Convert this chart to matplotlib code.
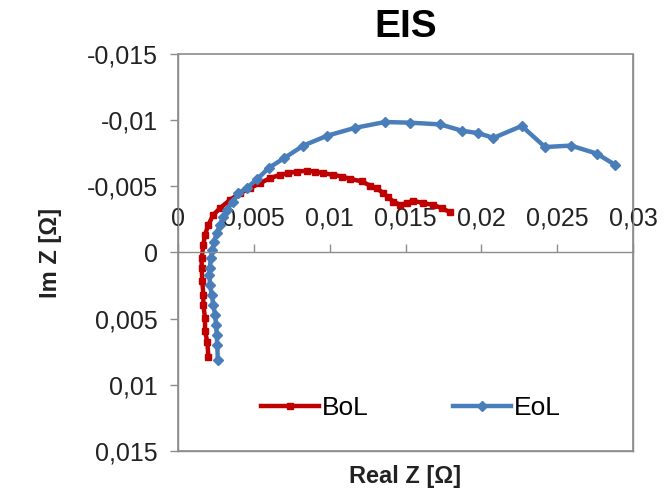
import matplotlib
matplotlib.use("Agg")
import matplotlib.pyplot as plt
from matplotlib.ticker import FuncFormatter

plt.rcParams['font.family'] = ['Liberation Sans', 'DejaVu Sans']

# BoL curve (Real Z, Im Z)
bol_re = [0.00200, 0.00193, 0.00178, 0.00178, 0.00167, 0.00167, 0.00160, 0.00156,
          0.00156, 0.00167, 0.00178, 0.00200, 0.00233, 0.00277, 0.00343, 0.00409,
          0.00475, 0.00541, 0.00607, 0.00673, 0.00727, 0.00783, 0.00849, 0.00903,
          0.00958, 0.01024, 0.01079, 0.01134, 0.01211, 0.01266, 0.01310, 0.01354,
          0.01387, 0.01420, 0.01464, 0.01508, 0.01551, 0.01617, 0.01683, 0.01739,
          0.01793]
bol_im = [0.00786, 0.00673, 0.00597, 0.00496, 0.00395, 0.00320, 0.00219, 0.00118,
          0.00043, -0.00058, -0.00134, -0.00209, -0.00285, -0.00335, -0.00398, -0.00448,
          -0.00486, -0.00524, -0.00562, -0.00587, -0.00599, -0.00612, -0.00617, -0.00612,
          -0.00599, -0.00587, -0.00574, -0.00557, -0.00537, -0.00506, -0.00486, -0.00448,
          -0.00416, -0.00385, -0.00360, -0.00373, -0.00391, -0.00373, -0.00360, -0.00335,
          -0.00305]

# EoL curve
eol_re = [0.00262, 0.00259, 0.00255, 0.00251, 0.00244, 0.00233, 0.00222, 0.00211,
          0.00207, 0.00211, 0.00215, 0.00226, 0.00237, 0.00255, 0.00277, 0.00299,
          0.00321, 0.00365, 0.00398, 0.00453, 0.00523, 0.00602, 0.00700, 0.00826,
          0.00985, 0.01167, 0.01365, 0.01532, 0.01730, 0.01872, 0.01980, 0.02080,
          0.02266, 0.02420, 0.02590, 0.02760, 0.02881]
eol_im = [0.00811, 0.00698, 0.00622, 0.00546, 0.00471, 0.00395, 0.00320, 0.00244,
          0.00169, 0.00118, 0.00043, -0.00020, -0.00083, -0.00146, -0.00209, -0.00272,
          -0.00323, -0.00385, -0.00448, -0.00486, -0.00557, -0.00642, -0.00713, -0.00808,
          -0.00883, -0.00942, -0.00986, -0.00981, -0.00968, -0.00920, -0.00902, -0.00866,
          -0.00956, -0.00797, -0.00808, -0.00748, -0.00663]

x_ticks = [0, 0.005, 0.01, 0.015, 0.02, 0.025, 0.03]
y_ticks = [-0.015, -0.01, -0.005, 0, 0.005, 0.01, 0.015]


def virgula(valor, pos):
    """Tick label with decimal comma, Excel style."""
    return ('%g' % round(valor, 6)).replace('.', ',')


fig = plt.figure(figsize=(6.7, 4.91), dpi=100)
ax = fig.add_axes([0.2657, 0.0815, 0.6791, 0.8085])

ax.plot(bol_re, bol_im, color='#C00000', lw=3.2, marker='s', ms=5, label='BoL')
ax.plot(eol_re, eol_im, color='#4A7EBB', lw=3.2, marker='D', ms=5.5, label='EoL')

ax.set_xlim(0, 0.03)
ax.set_ylim(0.015, -0.015)
ax.set_xticks(x_ticks)
ax.set_yticks(y_ticks)
ax.xaxis.set_major_formatter(FuncFormatter(virgula))
ax.yaxis.set_major_formatter(FuncFormatter(virgula))

# x axis crosses at Im Z = 0, labels above the line
ax.spines['top'].set_position(('data', 0))
ax.xaxis.set_ticks_position('top')
ax.xaxis.set_label_position('bottom')
for s in ax.spines.values():
    s.set_color('#8C8C8C')
    s.set_linewidth(1)
ax.patch.set_edgecolor('#8C8C8C')
ax.patch.set_linewidth(1.2)

ax.tick_params(axis='both', colors='#8C8C8C', labelcolor='#222222', labelsize=18,
               length=5.5, width=1, direction='out')
ax.tick_params(axis='x', pad=10)
ax.tick_params(axis='y', pad=9)

ax.set_title('EIS', fontsize=28, fontweight='bold', pad=12)
ax.set_xlabel('Real Z [Ω]', fontsize=17, fontweight='bold', labelpad=10, color='#222222')
ax.set_ylabel('Im Z [Ω]', fontsize=17, fontweight='bold', labelpad=18, color='#222222')

ax.legend(loc='center', bbox_to_anchor=(0.512, 0.108), ncol=2, frameon=False,
          fontsize=19, handlelength=2.2, handletextpad=0.1, columnspacing=3.2)

fig.savefig('out.png', dpi=100)
